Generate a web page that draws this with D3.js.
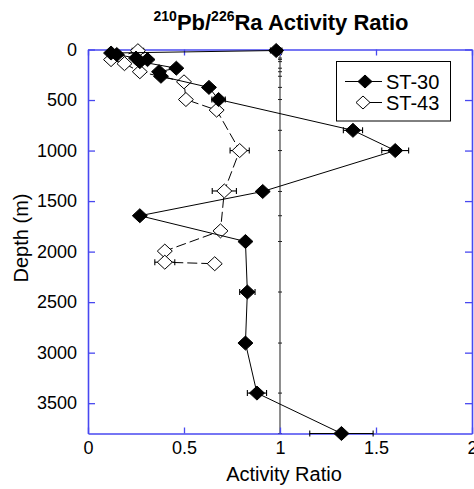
<!DOCTYPE html>
<html><head><meta charset="utf-8">
<script src="https://cdn.jsdelivr.net/npm/d3@7"></script>
<style>body{margin:0;background:#fff}svg{display:block}text{font-family:Arial,"Liberation Sans",sans-serif}</style>
</head><body>
<svg id="c" width="474" height="489"></svg>
<script>
const st30Depth = [10, 35, 50, 85, 100, 120, 185, 220, 265, 375, 495, 800, 1000, 1405, 1645, 1900, 2400, 2905, 3400, 3800];
const st30Ratio = [0.98, 0.12, 0.15, 0.25, 0.31, 0.27, 0.46, 0.37, 0.38, 0.63, 0.68, 1.38, 1.60, 0.91, 0.27, 0.82, 0.83, 0.82, 0.88, 1.32];
const st30Err   = [0.03, 0, 0, 0, 0, 0, 0, 0, 0, 0, 0.035, 0.05, 0.07, 0, 0, 0.02, 0.04, 0.02, 0.05, 0.165];
const st43Depth = [12, 100, 140, 220, 320, 495, 600, 1000, 1400, 1795, 1995, 2105, 2120];
const st43Ratio = [0.26, 0.12, 0.19, 0.27, 0.50, 0.51, 0.67, 0.79, 0.71, 0.69, 0.40, 0.40, 0.66];
const st43Err   = [0.03, 0, 0, 0, 0, 0, 0.02, 0.05, 0.063, 0.02, 0, 0.052, 0];
const xTicks = [0, 0.5, 1, 1.5, 2];
const yTicks = [0, 500, 1000, 1500, 2000, 2500, 3000, 3500];
const seriesNames = ["ST-30", "ST-43"];

const svg = d3.select("#c");
const L = 88, R = 472, T = 49.5, B = 433.5;
const x = d3.scaleLinear().domain([0, 2]).range([L, R]);
const y = d3.scaleLinear().domain([0, 3800]).range([T, B]);
const axisColor = "#4848f0";

// reference line at ratio = 1
svg.append("line").attr("x1", x(1)).attr("x2", x(1)).attr("y1", T).attr("y2", B)
  .attr("stroke", "#444").attr("stroke-width", 1.2);
svg.append("g").selectAll("line").data(st30Depth).join("line")
  .attr("x1", x(1) - 2).attr("x2", x(1) + 2).attr("y1", d => y(d)).attr("y2", d => y(d))
  .attr("stroke", "#222").attr("stroke-width", 1);

// axes
function styleAxis(g) {
  g.attr("color", axisColor);
  g.select(".domain").attr("stroke", axisColor).attr("stroke-width", 1.6);
  g.selectAll(".tick line").attr("stroke", axisColor).attr("stroke-width", 1.3);
  g.selectAll(".tick text").attr("fill", "#000").attr("font-size", 18)
    .attr("font-family", "Arial, 'Liberation Sans', sans-serif");
}
svg.append("g").attr("transform", `translate(0,${B})`)
  .call(d3.axisBottom(x).tickValues(xTicks).tickFormat(d3.format("")).tickSizeInner(-6).tickSizeOuter(0).tickPadding(8))
  .call(styleAxis);
svg.append("g").attr("transform", `translate(0,${T})`)
  .call(d3.axisTop(x).tickValues(xTicks).tickSizeInner(-6).tickSizeOuter(0).tickFormat(""))
  .call(styleAxis);
svg.append("g").attr("transform", `translate(${L},0)`)
  .call(d3.axisLeft(y).tickValues(yTicks).tickFormat(d3.format("d")).tickSizeInner(-7).tickSizeOuter(0).tickPadding(11))
  .call(styleAxis);
svg.append("g").attr("transform", `translate(${R},0)`)
  .call(d3.axisRight(y).tickValues(yTicks).tickSizeInner(-7).tickSizeOuter(0).tickFormat(""))
  .call(styleAxis);

const diamond = (cx, cy, w, h) => `M${cx},${cy - h}L${cx + w},${cy}L${cx},${cy + h}L${cx - w},${cy}Z`;
const line = d3.line().x(d => x(d[0])).y(d => y(d[1]));

function drawSeries(depth, ratio, err, filled, dash) {
  const pts = depth.map((d, i) => [ratio[i], d, err[i]]);
  const g = svg.append("g");
  g.append("path").attr("d", line(pts)).attr("fill", "none").attr("stroke", "#000")
    .attr("stroke-width", 1).attr("stroke-dasharray", dash);
  const eb = g.append("g").attr("stroke", "#000").attr("stroke-width", 1.1);
  pts.filter(p => p[2] > 0).forEach(p => {
    const x0 = x(p[0] - p[2]), x1 = x(p[0] + p[2]), yy = y(p[1]);
    eb.append("line").attr("x1", x0).attr("x2", x1).attr("y1", yy).attr("y2", yy);
    eb.append("line").attr("x1", x0).attr("x2", x0).attr("y1", yy - 3).attr("y2", yy + 3);
    eb.append("line").attr("x1", x1).attr("x2", x1).attr("y1", yy - 3).attr("y2", yy + 3);
  });
  g.selectAll("path.m").data(pts).join("path").attr("class", "m")
    .attr("d", p => diamond(x(p[0]), y(p[1]), 7.5, 7))
    .attr("fill", filled ? "#000" : "#fff").attr("stroke", "#000").attr("stroke-width", 1);
}
drawSeries(st43Depth, st43Ratio, st43Err, false, "10,4");
drawSeries(st30Depth, st30Ratio, st30Err, true, null);

// legend
const lg = svg.append("g");
lg.append("rect").attr("x", 336.5).attr("y", 61.5).attr("width", 114).attr("height", 59.5)
  .attr("fill", "#fff").attr("stroke", "#000").attr("stroke-width", 1);
const legY = [81.5, 102.5];
[0, 1].forEach(i => {
  const yy = legY[i];
  lg.append("line").attr("x1", i ? 357 : 345).attr("x2", 382).attr("y1", yy).attr("y2", yy)
    .attr("stroke", "#000").attr("stroke-width", 1);
  lg.append("path").attr("d", diamond(i ? 363 : 365, yy, 7, 6.5))
    .attr("fill", i ? "#fff" : "#000").attr("stroke", "#000");
  lg.append("text").attr("x", 386).attr("y", yy + 7).attr("font-size", 20).text(seriesNames[i]);
});

// title
const t = svg.append("text").attr("x", 281).attr("y", 30).attr("text-anchor", "middle")
  .attr("font-size", 22).attr("font-weight", "bold");
t.append("tspan").attr("font-size", 14).attr("dy", -9).text("210");
t.append("tspan").attr("dy", 9).text("Pb/");
t.append("tspan").attr("font-size", 14).attr("dy", -9).text("226");
t.append("tspan").attr("dy", 9).text("Ra Activity Ratio");

// axis labels
svg.append("text").attr("x", 284).attr("y", 481).attr("text-anchor", "middle").attr("font-size", 20).text("Activity Ratio");
svg.append("text").attr("transform", "translate(28,238) rotate(-90)").attr("text-anchor", "middle").attr("font-size", 20).text("Depth (m)");
</script>
</body></html>
